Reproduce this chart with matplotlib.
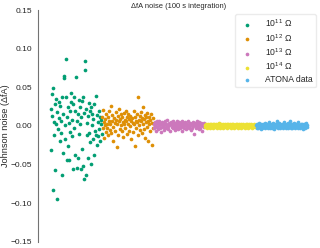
import numpy as np
import matplotlib
matplotlib.use('Agg')
import matplotlib.pyplot as plt
import seaborn as sns

# Johnson noise samples per feedback resistor (fA)
noise_1e11 = [0.022, -0.031, 0.041, 0.013, -0.083, 0.049, 0.005, -0.012, 0.028, -0.057,
              0.003, 0.035, -0.094, 0.018, -0.004, 0.031, 0.010, -0.020, 0.026, -0.009,
              0.007, -0.064, 0.038, -0.035, 0.015, 0.065, 0.062, -0.017, 0.001, 0.087,
              0.037, -0.044, 0.012, -0.026, 0.024, 0.004, -0.044, 0.019, -0.008, 0.031,
              0.043, -0.013, 0.008, -0.056, 0.029, -0.002, 0.037, 0.020, -0.038, 0.064,
              0.006, -0.054, 0.016, -0.041, 0.034, -0.010, 0.025, 0.002, -0.055, 0.011,
              0.032, -0.030, -0.052, 0.038, 0.017, -0.068, 0.084, 0.072, -0.063, 0.022,
              -0.011, 0.004, -0.042, 0.013, 0.030, -0.009, 0.019, -0.021, 0.024, -0.049,
              0.001, 0.015, -0.017, 0.009, -0.037, 0.028, -0.006, 0.039, -0.011, 0.014,
              -0.024, 0.005, -0.013, 0.020, -0.004, 0.011, -0.019, 0.002, 0.008, -0.010]
noise_1e12 = [0.012, -0.003, 0.021, 0.005, -0.015, 0.009, 0.001, -0.008, 0.016, 0.003,
              -0.002, 0.011, -0.012, 0.007, 0.019, -0.005, 0.002, 0.026, -0.009, 0.006,
              0.014, -0.001, -0.020, 0.010, 0.004, -0.006, 0.018, 0.008, -0.027, 0.003,
              0.013, -0.011, 0.006, 0.022, -0.004, 0.009, 0.001, 0.015, -0.007, 0.011,
              0.005, -0.014, 0.017, 0.002, 0.008, -0.003, 0.020, 0.007, -0.010, 0.012,
              0.003, 0.016, -0.006, 0.009, 0.000, 0.013, -0.017, 0.006, 0.010, 0.004,
              -0.008, 0.019, 0.002, -0.026, 0.011, 0.007, -0.002, 0.015, 0.005, 0.037,
              -0.012, 0.008, 0.001, 0.013, -0.005, 0.018, 0.006, -0.009, 0.010, 0.003,
              0.024, -0.004, 0.009, 0.014, -0.015, 0.005, 0.011, -0.001, 0.017, 0.007,
              -0.020, 0.002, 0.012, -0.007, 0.008, 0.016, -0.024, 0.004, 0.010, -0.003]
noise_1e13 = [0.002, -0.003, 0.005, 0.000, -0.006, 0.003, 0.007, -0.001, 0.004, -0.004,
              0.001, 0.006, -0.002, 0.003, -0.008, 0.002, 0.005, -0.001, 0.000, 0.004,
              -0.005, 0.002, 0.006, -0.003, 0.001, 0.003, -0.002, 0.008, 0.000, -0.004,
              0.004, 0.001, -0.006, 0.002, 0.005, -0.001, 0.003, -0.003, 0.006, 0.000,
              0.002, -0.005, 0.004, 0.001, -0.002, 0.007, 0.003, -0.004, 0.000, 0.005,
              0.001, -0.003, 0.004, 0.002, -0.001, 0.006, -0.007, 0.003, 0.000, 0.004,
              -0.002, 0.005, 0.001, -0.004, 0.003, 0.002, -0.001, 0.006, 0.000, -0.003,
              0.004, 0.001, -0.005, 0.003, 0.002, -0.002, 0.005, 0.000, 0.003, -0.010,
              0.001, 0.004, -0.003, 0.002, 0.006, -0.001, 0.003, 0.000, -0.004, 0.005,
              0.002, -0.002, 0.004, 0.001, -0.006, 0.003, 0.000, 0.002, -0.001, 0.004]
noise_1e14 = [0.001, -0.001, 0.002, 0.000, -0.002, 0.003, 0.001, -0.001, 0.000, 0.002,
              -0.002, 0.001, 0.003, -0.001, 0.000, 0.002, -0.003, 0.001, 0.002, 0.000,
              -0.001, 0.003, 0.001, -0.002, 0.000, 0.001, 0.002, -0.001, 0.004, 0.000,
              -0.002, 0.001, 0.002, -0.001, 0.000, 0.003, -0.002, 0.001, 0.000, 0.002,
              -0.001, 0.001, 0.003, -0.003, 0.000, 0.002, 0.001, -0.001, 0.002, 0.000,
              0.001, -0.002, 0.003, 0.000, -0.001, 0.002, 0.001, -0.002, 0.000, 0.001,
              0.002, -0.001, 0.000, 0.003, -0.002, 0.001, 0.000, 0.002, -0.001, 0.001,
              -0.003, 0.002, 0.000, 0.001, -0.001, 0.003, 0.000, -0.002, 0.001, 0.002,
              0.000, -0.001, 0.002, 0.001, -0.002, 0.000, 0.003, -0.001, 0.001, 0.000,
              0.002, -0.002, 0.001, 0.000, -0.001, 0.002, 0.001, -0.001, 0.000, 0.001]
noise_atona = [0.001, -0.002, 0.003, 0.000, -0.003, 0.002, 0.004, -0.001, 0.001, -0.004,
               0.002, 0.000, -0.002, 0.003, 0.001, -0.001, 0.004, -0.003, 0.000, 0.002,
               -0.001, 0.003, 0.001, -0.002, 0.005, 0.000, -0.003, 0.002, 0.001, -0.001,
               0.003, -0.002, 0.000, 0.004, 0.001, -0.004, 0.002, 0.000, -0.001, 0.003,
               0.006, 0.002, -0.002, 0.001, 0.000, 0.004, -0.003, 0.002, 0.001, -0.001,
               0.003, 0.000, -0.002, 0.005, 0.001, -0.001, 0.002, -0.003, 0.000, 0.003,
               0.001, -0.002, 0.004, 0.000, -0.001, 0.002, 0.006, -0.002, 0.001, 0.003,
               -0.003, 0.000, 0.002, -0.001, 0.004, 0.001, -0.002, 0.000, 0.003, -0.001,
               0.002, 0.005, -0.003, 0.001, 0.000, -0.002, 0.003, 0.001, -0.001, 0.002,
               -0.004, 0.000, 0.003, 0.001, -0.002, 0.002, 0.000, 0.004, -0.001, 0.001]

series = [noise_1e11, noise_1e12, noise_1e13, noise_1e14, noise_atona]
labels = ['10$^{11}$ \u03a9', '10$^{12}$ \u03a9', '10$^{13}$ \u03a9',
          '10$^{14}$ \u03a9', 'ATONA data']
yticks = [-0.15, -0.10, -0.05, 0.00, 0.05, 0.10, 0.15]

sns.set_style('white')
plt.rcParams['font.family'] = ['Liberation Sans', 'DejaVu Sans']
plt.rcParams['mathtext.fontset'] = 'custom'
plt.rcParams['mathtext.rm'] = 'Liberation Sans'
plt.rcParams['mathtext.it'] = 'Liberation Sans:italic'
colors = sns.color_palette('colorblind')
cols = [colors[2], colors[1], colors[4], colors[8], colors[9]]

fig = plt.figure(figsize=(3.2, 2.48), dpi=100)
ax = fig.add_axes([38/320, 6/248, 282/320, 232/248])

start = 0
for vals, lab, c in zip(series, labels, cols):
    x = np.arange(start, start + len(vals))
    ax.scatter(x, vals, s=7, color=c, linewidths=0, label=lab)
    start += len(vals)

ax.set_ylim(-0.15, 0.15)
ax.set_yticks(yticks)
ax.set_yticklabels(['%.2f' % v if v >= 0 else '\u2212%.2f' % -v for v in yticks])
ax.set_xticks([])
ax.tick_params(axis='y', labelsize=6, colors='.15', length=0, pad=4)
ax.set_ylabel('Johnson noise (\u0394fA)', fontsize=6.6, color='.15')
ax.yaxis.set_label_coords(-0.1, 0.5)
ax.set_title('\u0394fA noise (100 s integration)', fontsize=5.4, color='.15', pad=1)
sns.despine(ax=ax, bottom=True)
ax.spines['left'].set_color('.45')

leg = ax.legend(loc='upper right', fontsize=6.2, handletextpad=1.0, labelspacing=0.3,
                borderpad=0.4, borderaxespad=0.5, frameon=True)
leg.get_frame().set_edgecolor('.9')

fig.savefig('out.png', dpi=100)
